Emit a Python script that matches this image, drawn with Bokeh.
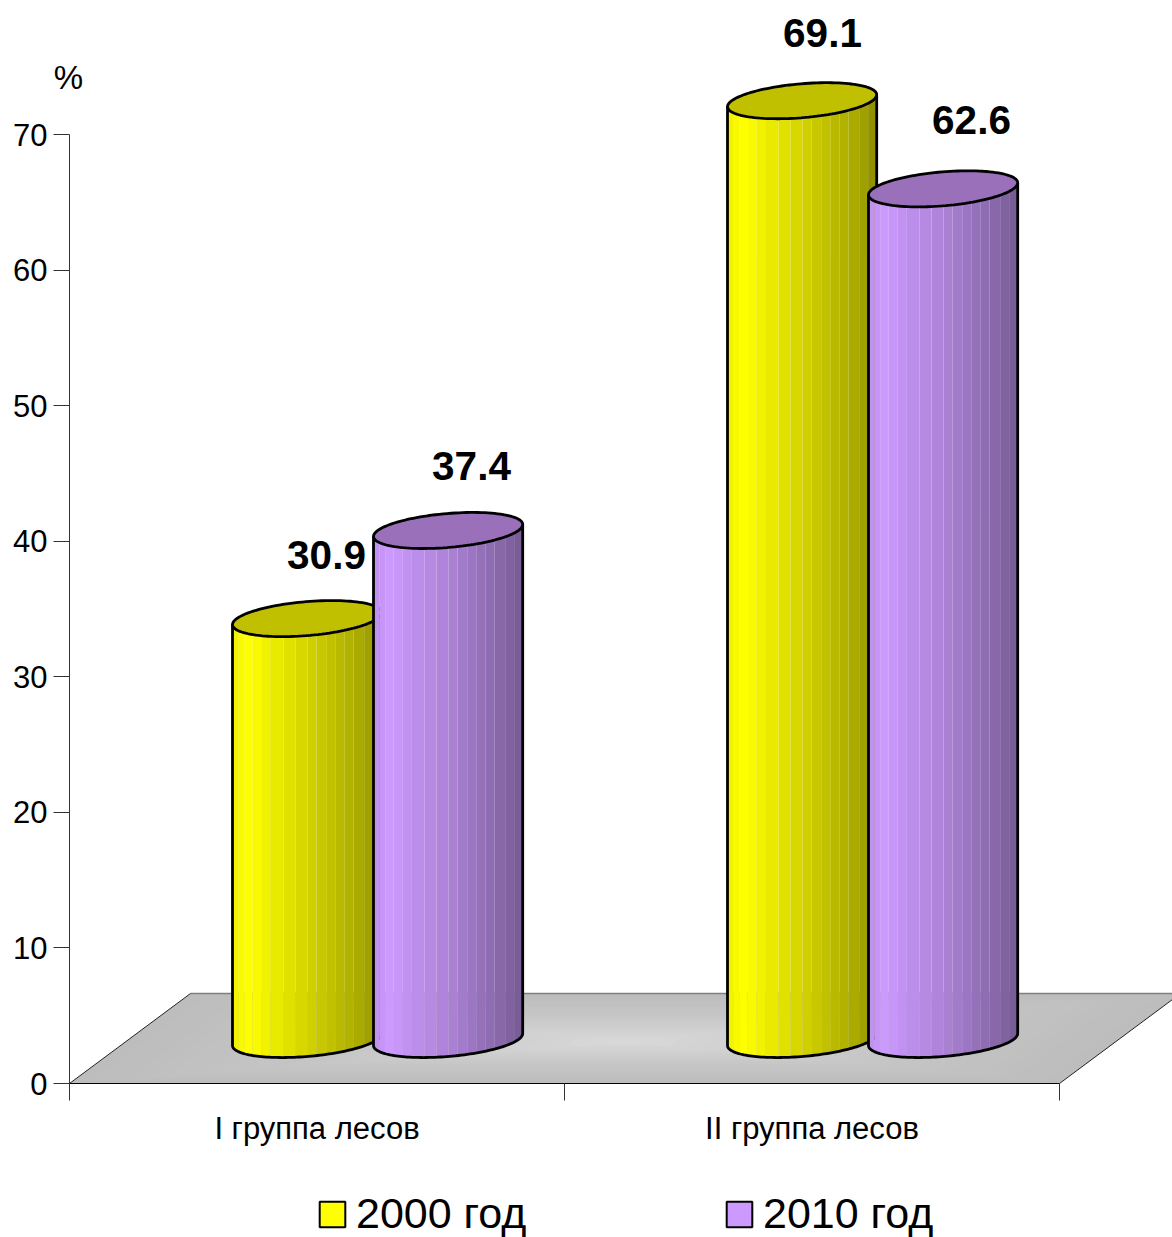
import numpy as np
from bokeh.embed import file_html
from bokeh.models import FixedTicker, Legend, LegendItem, Range1d
from bokeh.plotting import figure
from bokeh.resources import INLINE
from bokeh.core.properties import value

categories = ["I группа лесов", "II группа лесов"]
series_names = ["2000 год", "2010 год"]
values_2000 = [30.9, 69.1]
values_2010 = [37.4, 62.6]
y_ticks = [0, 10, 20, 30, 40, 50, 60, 70]

W, H = 1172, 1237
LEFT, BOTTOM = 69, 1083
PX_PER_CAT = 495.0
PX_PER_UNIT = 13.557
FONT = "Liberation Sans"


def dx(px):
    return px / PX_PER_CAT


def dy(px):
    return px / PX_PER_UNIT


def hex_rgb(c):
    return np.array([int(c[i:i + 2], 16) for i in (1, 3, 5)], dtype=float)


def ramp(stops, t):
    pos = [s[0] for s in stops]
    cols = np.array([hex_rgb(s[1]) for s in stops])
    rgb = [np.interp(t, pos, cols[:, i]) for i in range(3)]
    return "#%02x%02x%02x" % tuple(int(round(v)) for v in rgb)


p = figure(
    width=W, height=H, output_backend="svg", toolbar_location=None,
    x_range=Range1d(dx(-LEFT), dx(W - LEFT)),
    y_range=Range1d(dy(BOTTOM - H), dy(BOTTOM)),
    min_border=0, outline_line_color=None,
    background_fill_color="white",
)
p.grid.visible = False

# Value axis, pinned to the left wall of the box
ya = p.yaxis[0]
ya.fixed_location = 0
ya.ticker = FixedTicker(ticks=y_ticks)
ya.bounds = (0, 70)
ya.major_tick_out = 16
ya.major_tick_in = 0
ya.minor_tick_out = 0
ya.minor_tick_in = 0
ya.major_tick_line_color = "#333333"
ya.axis_line_color = "#333333"
ya.major_label_standoff = 6
ya.major_label_text_font = FONT
ya.major_label_text_font_size = "31px"
ya.major_label_text_color = "black"

# Category axis: ticks separate the groups, labels sit between them
xa = p.xaxis[0]
xa.fixed_location = 0
xa.ticker = FixedTicker(ticks=[0.5, 1.5], minor_ticks=[0, 1, 2])
xa.major_label_overrides = {0.5: categories[0], 1.5: categories[1]}
xa.bounds = (0, 2)
xa.major_tick_out = 0
xa.major_tick_in = 0
xa.minor_tick_out = 17
xa.minor_tick_in = 0
xa.minor_tick_line_color = "#333333"
xa.axis_line_color = "black"
xa.major_label_standoff = 10
xa.major_label_text_font = FONT
xa.major_label_text_font_size = "31px"
xa.major_label_text_color = "black"

# Floor of the 3D box, shaded towards the middle
DEPTH_X, DEPTH_Y = dx(121), dy(90)
fx = np.array([0, 2, 2 + DEPTH_X, DEPTH_X])
fy = np.array([0, 0, DEPTH_Y, DEPTH_Y])
cx0, cy0 = dx(555), dy(42)
steps = 28
floor_xs, floor_ys, floor_cols = [], [], []
for i in range(steps):
    s = 1 - i / steps
    floor_xs.append(list(cx0 + s * (fx - cx0)))
    floor_ys.append(list(cy0 + s * (fy - cy0)))
    floor_cols.append(ramp([(0, "#bdbdbd"), (0.45, "#c6c6c6"), (1, "#d8d8d8")], i / (steps - 1)))
p.patches(floor_xs, floor_ys, fill_color=floor_cols, line_color=None)
p.line([fx[3], fx[2]], [fy[3], fy[2]], line_color="#808080", line_width=1.5)
p.line([fx[0], fx[3]], [fy[0], fy[3]], line_color="#222222", line_width=1)
p.line([fx[1], fx[2]], [fy[1], fy[2]], line_color="#222222", line_width=1)

# Cylinders
CYL_A = dx(74.6)
CYL_TILT = dy(6)
CYL_B = dy(17)
BASE = dy(38)
TOP_LIFT = dy(2)
FIRST = dx(163)
STEP = dx(141)
# Facet boundaries across the body, as fractions of its width
FACETS = np.array([0, .04, .08, .13, .19, .25, .34, .42, .50, .56, .63, .69, .75, .81, .88, .94, 1])

yellow = dict(
    top="#c0c000",
    stops=[(0, "#f0f000"), (0.1, "#ffff00"), (0.5, "#d4d400"), (0.88, "#a6a600"), (1, "#8c8c00")],
)
purple = dict(
    top="#9a70bb",
    stops=[(0, "#bf90ee"), (0.1, "#cc99ff"), (0.5, "#ac82d6"), (0.88, "#8565a6"), (1, "#755a92")],
)


def cylinder(left, val, style):
    cx = left + CYL_A
    cb = BASE + CYL_TILT
    ct = cb + val + TOP_LIFT
    edges = left + 2 * CYL_A * FACETS + dx(0.37)
    edges[0], edges[-1] = left, left + 2 * CYL_A
    xs, ys, cols = [], [], []
    for i in range(len(FACETS) - 1):
        xx = np.linspace(edges[i], edges[i + 1], 6)
        u = np.clip((xx - cx) / CYL_A, -1, 1)
        low = cb + CYL_TILT * u - CYL_B * np.sqrt(1 - u ** 2)
        high = ct + CYL_TILT * u
        xs.append(list(xx) + list(xx[::-1]))
        ys.append(list(low) + list(high[::-1]))
        cols.append(ramp(style["stops"], (FACETS[i] + FACETS[i + 1]) / 2))
    p.patches(xs, ys, fill_color=cols, line_color=None)

    t = np.linspace(np.pi, 2 * np.pi, 80)
    ox = cx + CYL_A * np.cos(t)
    oy = cb + CYL_TILT * np.cos(t) + CYL_B * np.sin(t)
    ox = np.concatenate([[ox[0]], ox, [ox[-1]]])
    oy = np.concatenate([[ct - CYL_TILT], oy, [ct + CYL_TILT]])
    p.line(ox, oy, line_color="black", line_width=2.8, line_join="round")

    t = np.linspace(0, 2 * np.pi, 120)
    p.patch(cx + CYL_A * np.cos(t), ct + CYL_TILT * np.cos(t) + CYL_B * np.sin(t),
            fill_color=style["top"], line_color="black", line_width=2.8)


for g in range(len(categories)):
    cylinder(g + FIRST, values_2000[g], yellow)
    cylinder(g + FIRST + STEP, values_2010[g], purple)

# Value labels, placed relative to each cylinder's top
nudges = [(94, 72), (98, 72), (95, 76), (103, 77)]
lefts = [FIRST, FIRST + STEP, 1 + FIRST, 1 + FIRST + STEP]
vals = [values_2000[0], values_2010[0], values_2000[1], values_2010[1]]
for left, val, (nx, ny) in zip(lefts, vals, nudges):
    p.text([left + dx(nx)], [BASE + val + dy(ny)], text=[f"{val:.1f}"],
           text_font=value(FONT), text_font_size="40.5px", text_font_style="bold",
           text_color="black", text_align="center", text_baseline="alphabetic")

p.text([dx(-1)], [dy(BOTTOM - 90 + 13)], text=["%"], text_font=value(FONT), text_font_size="33px",
       text_color="black", text_align="center", text_baseline="alphabetic")

# Legend swatches come from renderers parked outside the visible range
OFF = -50
sw_a = p.quad(left=[OFF], right=[OFF + 1], top=[OFF + 1], bottom=[OFF], fill_color="#ffff00", line_color="black", line_width=2)
sw_b = p.quad(left=[OFF], right=[OFF + 1], top=[OFF + 1], bottom=[OFF], fill_color="#cc99ff", line_color="black", line_width=2)
for name, rend, x in [(series_names[0], sw_a, 316), (series_names[1], sw_b, 723)]:
    p.add_layout(Legend(
        items=[LegendItem(label=name, renderers=[rend])],
        location=(x, -1), orientation="horizontal",
        border_line_color=None, background_fill_alpha=0,
        margin=0, padding=0, glyph_width=32, glyph_height=32, label_standoff=8,
        label_text_font=FONT, label_text_font_size="43px", label_text_color="black",
        label_height=45,
    ))

open("out.html", "w").write(file_html(p, INLINE))
